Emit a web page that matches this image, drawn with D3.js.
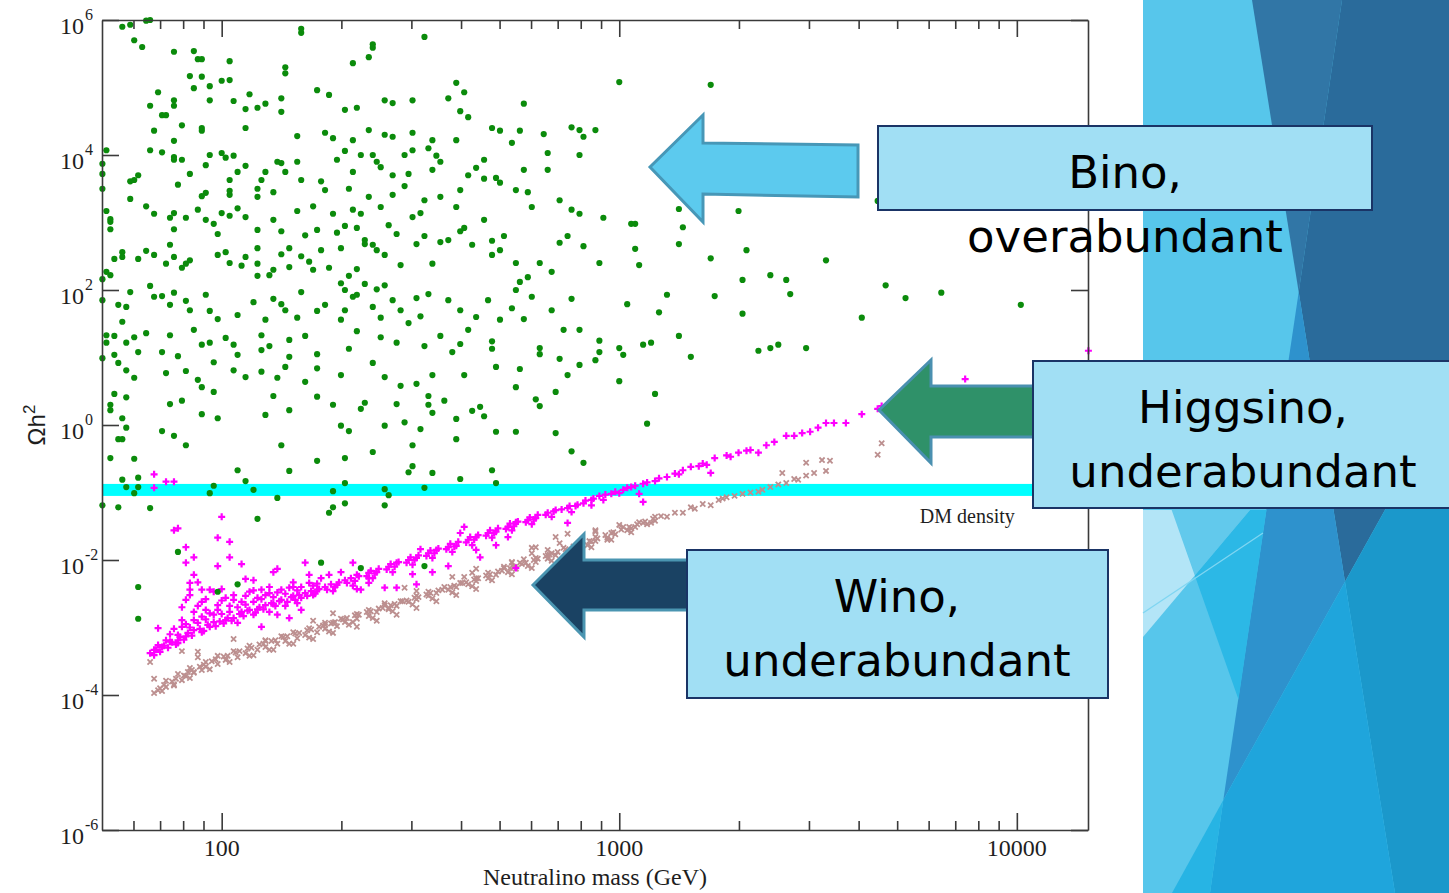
<!DOCTYPE html>
<html>
<head>
<meta charset="utf-8">
<title>Neutralino relic density</title>
<script src="https://cdn.jsdelivr.net/npm/d3@7"></script>
<style>
  html, body { margin: 0; padding: 0; background: #ffffff; overflow: hidden; }
  svg { display: block; }
</style>
</head>
<body>
<svg id="slide" width="1449" height="893"></svg>
<script>
// ---------------- data ----------------
const massDomain = [50, 15100];          // neutralino mass, GeV
const omegaDomain = [1e-6, 1e6];         // relic density Ωh²
const massMajorTicks = [100, 1000, 10000];
const massMinorTicks = [60, 70, 80, 90, 200, 300, 400, 500, 600, 700, 800, 900,
                        2000, 3000, 4000, 5000, 6000, 7000, 8000, 9000];
const massTickLabels = ["100", "1000", "10000"];
const omegaTickExponents = [-6, -4, -2, 0, 2, 4, 6];
const dmDensityBand = [0.089, 0.134];    // observed dark-matter density
const dmDensityLabel = "DM density";
const xAxisTitle = "Neutralino mass (GeV)";

// each point: [log10(mass / GeV), log10(Ωh²)]
const binoPoints = [
[1.75,5.90],[1.77,5.93],[1.78,5.70],[1.80,5.60],[1.81,5.99],[1.82,6.00],[1.88,5.53],[1.93,5.54],[1.94,5.42],[1.95,5.42],
[2.02,5.39],[1.92,5.17],[1.95,5.16],[1.97,5.02],[1.93,4.99],[2.00,5.10],[2.02,5.11],[2.07,4.90],[1.84,4.93],[1.88,4.81],
[1.88,4.73],[1.82,4.73],[1.85,4.59],[1.86,4.59],[1.83,4.36],[1.90,4.44],[1.95,4.40],[1.95,4.36],[1.97,4.81],[2.03,4.80],
[2.06,4.68],[2.06,4.40],[2.09,4.70],[2.11,4.76],[2.15,4.64],[2.15,4.84],[2.16,5.21],[2.16,5.30],[2.19,4.28],[1.88,4.21],
[1.85,4.04],[1.82,4.07],[1.88,3.97],[1.90,3.93],[1.88,3.93],[1.96,3.85],[1.97,4.00],[2.00,4.03],[2.01,3.96],[2.03,3.99],
[2.06,3.84],[2.15,3.88],[2.16,3.75],[2.14,3.90],[2.02,3.63],[2.11,3.75],[1.79,3.70],[1.77,3.61],[1.78,3.63],[1.70,3.87],
[1.70,3.72],[1.70,3.50],[1.71,4.07],[1.92,3.72],[2.04,3.75],[2.02,3.47],[2.09,3.50],[2.10,3.63],[1.95,3.39],[1.89,3.56],
[1.96,3.44],[2.02,3.41],[2.09,3.38],[1.71,3.17],[1.72,3.01],[1.77,3.35],[1.81,3.24],[1.88,3.14],[1.87,3.07],[1.83,3.13],
[1.91,3.07],[1.94,3.19],[1.96,3.04],[1.98,2.98],[2.00,3.14],[2.02,3.10],[2.04,3.21],[2.06,3.08],[2.09,2.89],[2.13,3.45],
[2.13,3.04],[2.15,2.87],[2.19,3.17],[1.72,3.05],[1.88,2.90],[1.99,2.83],[1.75,2.56],[1.75,2.49],[1.73,2.46],[1.72,2.90],
[1.79,2.46],[1.81,2.58],[1.83,2.52],[1.87,2.67],[1.88,2.49],[1.86,2.39],[1.91,2.39],[1.92,2.44],[1.90,2.33],[1.99,2.52],
[2.01,2.56],[2.02,2.40],[2.05,2.36],[2.06,2.49],[2.09,2.62],[2.09,2.39],[2.09,2.21],[2.12,2.22],[2.13,2.30],[2.15,2.53],
[2.17,2.62],[1.70,2.16],[1.72,2.22],[1.71,2.27],[1.82,2.06],
[2.20,5.81],[2.20,5.87],[2.38,5.59],[2.38,5.64],[2.51,5.75],[2.37,5.45],[2.33,5.36],[2.27,4.89],[2.24,4.96],[2.31,4.67],
[2.34,4.70],[2.43,4.77],[2.41,4.81],[2.48,4.81],[2.57,4.84],[2.59,5.07],[2.61,4.93],[2.62,4.56],[2.60,4.65],[2.76,4.76],
[3.00,5.08],[3.23,5.04],[2.26,4.33],[2.28,4.25],[2.33,4.22],[2.37,4.37],[2.41,4.30],[2.43,4.27],[2.48,4.33],[2.53,4.22],
[2.52,4.10],[2.54,3.99],[2.59,4.22],[2.68,4.40],[2.70,4.36],[2.75,4.36],[2.81,4.31],[2.88,4.41],[2.90,4.37],[2.94,4.37],
[2.91,4.27],[2.73,4.18],[2.82,4.03],[2.90,4.00],[2.31,4.06],[2.35,4.00],[2.46,4.00],[2.48,4.07],[2.19,3.90],[2.20,3.63],
[2.25,3.61],[2.26,3.48],[2.29,3.93],[2.33,3.75],[2.38,4.00],[2.39,3.90],[2.40,3.82],[2.46,3.54],[2.47,3.72],[2.53,3.78],
[2.55,3.90],[2.55,3.38],[2.59,3.23],[2.60,3.48],[2.62,3.70],[2.64,3.81],[2.66,3.93],[2.66,3.65],[2.69,3.66],[2.70,3.59],
[2.74,3.48],[2.76,3.78],[2.77,3.45],[2.78,3.23],[2.82,3.78],[2.85,3.33],[2.88,3.19],[2.90,3.13],[2.96,3.07],[3.03,2.98],
[3.04,2.98],[3.30,3.17],[3.15,3.20],[2.32,3.50],[2.33,3.19],[2.23,3.24],[2.28,3.13],[2.35,3.13],[2.37,3.38],[2.40,3.23],
[2.43,3.41],[2.50,3.14],[2.48,3.08],[2.51,3.33],[2.43,3.70],[2.21,2.81],[2.24,2.89],[2.25,2.59],[2.27,2.33],[2.30,2.62],
[2.29,2.85],[2.31,2.95],[2.34,2.92],[2.36,2.74],[2.36,2.68],[2.38,2.67],[2.39,2.59],[2.41,2.52],[2.42,2.96],[2.44,2.83],
[2.45,2.37],[2.49,2.68],[2.51,2.80],[2.53,2.39],[2.55,2.71],[2.57,2.74],[2.60,2.87],[2.61,2.92],[2.63,2.67],[2.66,3.04],
[2.68,2.73],[2.68,2.52],[2.71,2.80],[2.70,2.59],[2.74,2.40],[2.75,2.12],[2.77,2.19],[2.80,2.40],[2.83,2.27],[2.85,2.70],
[2.87,2.80],[2.91,2.65],[2.95,2.40],[3.04,2.61],[3.05,2.37],[3.16,2.93],[3.15,2.68],[3.23,2.47],[3.32,2.59],[3.42,2.15],
[3.43,1.94],[3.52,2.44],[3.38,2.22],[3.31,2.15],[2.20,2.50],[2.23,2.30],[2.30,2.10],[2.31,2.00],[2.36,2.09],[2.39,2.01],
[2.41,2.07],[2.34,2.31],[2.32,2.21],[2.22,2.42],[2.17,2.34],
[1.74,1.78],[1.76,1.75],[1.70,1.85],[1.77,1.97],[1.83,1.90],[1.85,1.91],[1.88,1.96],[1.87,1.78],[1.91,1.84],[1.92,1.70],
[1.96,1.93],[1.97,1.69],[1.99,1.57],[2.04,1.63],[2.08,1.82],[2.11,1.56],[2.13,1.87],[2.15,1.79],[2.16,1.70],[2.19,1.59],
[2.20,1.97],[2.24,1.69],[2.26,1.78],[2.30,1.56],[2.31,1.70],[2.33,1.90],[2.34,1.93],[2.38,1.75],[2.40,1.59],[2.43,1.85],
[2.45,1.70],[2.47,1.51],[2.49,1.88],[2.50,1.61],[2.52,1.94],[2.57,1.85],[2.60,1.70],[2.64,1.60],[2.67,1.85],[2.70,1.56],
[2.73,1.73],[2.74,2.00],[2.76,1.57],[2.78,1.90],[2.83,1.70],[2.88,1.87],[2.90,1.41],[3.02,1.79],[3.10,1.67],[3.12,1.93],
[3.15,1.32],[3.24,1.91],[3.31,1.65],[3.35,1.10],[3.38,1.14],[3.40,1.19],[3.47,1.14],[3.61,1.59],[3.67,2.07],[3.72,1.88],
[3.81,1.96],[4.01,1.78],[3.65,3.32],[1.73,1.32],[1.71,1.33],[1.71,1.22],[1.75,1.53],[1.76,1.22],[1.78,1.30],[1.81,1.36],
[1.87,1.33],[1.93,1.41],[1.97,1.22],[2.01,1.29],[2.03,1.19],[2.10,1.33],[2.12,1.17],[2.17,1.01],[2.21,1.32],[2.24,1.05],
[2.32,1.13],[2.34,1.39],[2.40,1.30],[2.44,1.22],[2.51,1.17],[2.55,1.32],[2.60,1.20],[2.62,1.41],[2.68,1.13],[2.80,1.05],
[2.86,1.41],[2.95,1.08],[3.00,1.14],[3.06,1.19],[1.73,1.04],[1.79,1.08],[1.85,1.08],[1.89,1.02],[1.95,1.19],[2.04,1.04],
[2.10,1.11],[2.17,1.26],
[1.70,0.99],[1.74,0.92],[1.76,0.81],[1.78,0.70],[1.86,0.77],[1.91,0.80],[1.94,0.67],[1.98,0.93],[2.03,0.81],[2.06,0.71],
[2.10,0.79],[2.14,0.70],[2.16,0.86],[2.21,0.64],[2.24,0.84],[2.30,0.74],[2.38,0.92],[2.41,0.71],[2.45,0.58],[2.53,0.74],
[2.58,1.08],[2.61,0.74],[2.68,1.24],[2.69,0.86],[2.75,0.83],[2.80,1.14],[2.85,0.98],[2.87,0.74],[2.90,0.89],[2.94,0.96],
[2.95,1.25],[3.01,1.04],[3.00,0.65],[3.08,1.22],[3.09,0.46],[3.07,0.02],[3.18,1.01],[2.84,0.49],[2.79,0.38],[2.80,0.28],
[2.63,0.21],[2.65,0.27],[2.66,0.13],[2.59,0.09],[2.59,-0.21],[2.69,-0.10],[2.74,-0.10],[2.84,-0.12],[2.88,-0.39],[2.91,-0.56],
[2.68,-0.67],[2.69,-0.86],[2.60,-0.80],[1.73,0.46],[1.76,0.41],[1.72,0.30],[1.72,0.22],[1.75,0.10],[1.76,-0.04],[1.74,-0.21],
[1.75,-0.21],[1.72,-0.49],[1.78,-0.50],[1.75,-0.81],[1.79,-0.78],[1.76,-0.92],[1.78,-1.01],[1.79,-0.92],[1.70,-1.19],[1.74,-1.22],
[1.82,-1.23],[1.89,-1.88],[1.79,-2.40],[1.79,-2.87],[1.98,-0.90],[1.97,-1.01],[2.04,-0.67],[2.06,-0.83],[2.08,-0.96],[2.14,-1.08],
[2.09,-1.39],[2.17,-0.68],[2.15,-0.30],[1.91,-0.30],[1.88,-0.16],[1.85,-0.09],[1.87,0.31],[1.90,0.36],[1.95,0.16],[1.99,0.10],
[1.98,0.49],[1.95,0.56],[2.13,0.43],[2.11,0.15],[2.17,0.22],[2.24,0.42],[2.28,0.30],[2.30,-0.01],[2.32,-0.09],[2.35,0.24],
[2.36,0.33],[2.44,0.31],[2.46,0.04],[2.41,-0.01],[2.50,-0.06],[2.48,-0.30],[2.48,-0.61],[2.47,-0.70],[2.53,-0.71],[2.51,-0.93],
[2.41,-0.95],[2.42,-1.04],[2.41,-1.19],[2.31,-0.86],[2.31,-1.16],[2.28,-1.22],[2.27,-1.30],[2.28,-0.98],[2.24,-0.53],[2.31,-0.49],
[2.38,-0.40],[2.56,0.36],[2.52,0.43],[2.52,0.30],[2.53,0.18],[2.74,0.56],[2.49,0.61],[2.25,-2.04],[2.35,-2.12],[2.51,-2.09],
[2.04,-2.36],[1.99,-2.47]
];

const higgsinoPoints = [
[1.83,-0.73],[1.83,-0.93],[1.86,-0.84],[1.88,-0.84],[2.00,-1.36],[1.88,-1.56],[1.89,-1.53],[1.99,-1.67],[2.02,-1.73],[1.91,-1.81],
[1.93,-1.96],[1.91,-2.04],[1.99,-2.09],[2.05,-2.06],[2.02,-1.96],[1.93,-2.22],[1.92,-2.34],[1.92,-2.44],[1.94,-2.33],[1.95,-2.44],
[1.97,-2.44],[1.98,-2.47],[2.00,-2.43],[2.06,-2.28],[2.08,-2.30],[2.13,-2.18],[2.14,-2.13],[2.21,-2.04],[2.17,-2.41],[2.20,-2.40],
[2.22,-2.34],[2.34,-2.43],[2.35,-2.44],[2.41,-2.41],[2.44,-2.41],[2.48,-2.21],[2.49,-2.36],[2.53,-2.18],[2.57,-2.09],[2.64,-1.85],
[2.69,-1.78],[2.72,-1.66],[2.61,-1.51],[2.60,-1.60],[2.50,-1.84],[2.33,-2.04],[2.37,-2.27],[2.37,-2.34],
[2.10,-2.99],[2.14,-2.81],[2.17,-2.86],[2.20,-2.74],[1.84,-3.01],[1.90,-2.89],[1.93,-2.89],[1.90,-2.99],[1.95,-2.84],[1.95,-2.62],
[1.90,-2.70],[1.89,-3.23],[1.89,-3.11],[1.86,-3.19],[1.84,-3.26],[1.83,-3.33],[1.85,-3.29],
[1.82,-3.38],[1.89,-3.19],[1.93,-3.04],[1.97,-2.99],[2.03,-2.86],[2.07,-2.74],[2.11,-2.67],[2.15,-2.59],[2.21,-2.49],[2.26,-2.40],
[2.31,-2.30],[2.37,-2.19],[2.42,-2.10],[2.47,-2.00],[2.52,-1.90],[2.57,-1.81],[2.62,-1.70],[2.67,-1.60],[2.72,-1.51],[2.77,-1.41],
[2.82,-1.30],[2.87,-1.23],[2.91,-1.16],[2.95,-1.05],[2.98,-1.02],[3.01,-0.96],[3.03,-0.92],[3.06,-0.87],[3.09,-0.83],[3.12,-0.77],
[3.15,-0.73],[3.18,-0.62],[3.20,-0.61],[3.22,-0.59],[3.24,-0.49],[3.23,-0.71],[3.30,-0.41],[3.33,-0.37],[3.35,-0.41],[3.37,-0.30],
[3.42,-0.16],[3.44,-0.16],[3.50,-0.04],[3.52,0.03],[3.54,0.03],[3.57,0.03],[3.61,0.16],[3.65,0.24],[3.66,0.28],[3.87,0.68],
[4.18,1.10],[3.06,-1.14],[3.05,-1.02],[2.87,-1.45],[2.65,-1.96],[2.74,-2.12],
[1.83,-3.41],[1.87,-3.21],[1.91,-3.13],[1.95,-3.07],[1.98,-2.92],[2.01,-2.89],[2.05,-2.77],[2.09,-2.73],[2.13,-2.65],[2.18,-2.53],
[2.20,-2.56],[2.24,-2.44],[2.29,-2.37],[2.34,-2.22],[2.39,-2.18],[2.44,-2.04],[2.49,-1.97],[2.54,-1.85],[2.59,-1.79],[2.64,-1.66],
[2.69,-1.58],[2.74,-1.44],[2.79,-1.38],[2.84,-1.26],[2.89,-1.20],[2.93,-1.11],[2.04,-2.93],[2.08,-2.81],[2.12,-2.77],[2.16,-2.68],
[2.19,-2.64],[2.23,-2.52],[2.28,-2.46],[2.33,-2.38],[2.38,-2.27],[2.43,-2.18],[2.48,-2.07],[2.53,-1.97],[2.58,-1.88],[2.63,-1.78],
[2.68,-1.67],[2.73,-1.56],[2.78,-1.47],[2.83,-1.36],[2.88,-1.29],[2.93,-1.19],[2.96,-1.11],[3.00,-1.01],
[1.96,-2.74],[1.99,-2.67],[2.03,-2.59],[2.06,-2.53],[2.09,-2.56],[2.12,-2.49],[2.02,-2.77],[1.98,-2.81],[1.93,-2.77],[1.91,-2.59],
[2.10,-2.44],[2.15,-2.44],[2.18,-2.33],[2.25,-2.27],[2.27,-2.22],[2.30,-2.18],[2.22,-2.22],[2.01,-2.56],[2.07,-2.47],
[1.835,-3.33],[1.845,-3.36],[1.855,-3.27],[1.865,-3.30],[1.875,-3.22],[1.885,-3.25],[1.895,-3.14],[1.905,-3.18],[1.915,-3.08],[1.925,-3.12],
[1.945,-3.02],[1.955,-3.05],[1.965,-2.96],[1.985,-2.98],[1.995,-2.91],[2.005,-2.94],[2.015,-2.86],[2.025,-2.90],[2.045,-2.80],[2.055,-2.83],
[2.065,-2.75],[2.085,-2.78],[2.095,-2.70],[2.105,-2.73],[2.125,-2.64],[2.135,-2.68],[2.145,-2.61],[2.165,-2.62],[2.175,-2.55],[2.185,-2.59],
[2.195,-2.52],[2.215,-2.53],[2.225,-2.46],[2.235,-2.50],[2.245,-2.43],[2.265,-2.44],[2.275,-2.36],[2.285,-2.40],[2.295,-2.33],[2.315,-2.34],
[2.325,-2.27],[2.335,-2.31],[2.345,-2.24],[2.365,-2.24],[2.375,-2.16],[2.385,-2.20],[2.395,-2.13],[2.415,-2.14],[2.425,-2.06],[2.435,-2.10],
[2.445,-2.03],[2.465,-2.04],[2.475,-1.96],[2.485,-2.00],[2.495,-1.93],[2.515,-1.94],[2.525,-1.86],[2.535,-1.90],[2.545,-1.83],[2.565,-1.84],
[2.575,-1.76],[2.585,-1.80],[2.595,-1.73],[2.615,-1.74],[2.625,-1.66],[2.635,-1.70],[2.645,-1.63],[2.665,-1.64],[2.675,-1.56],[2.685,-1.60],
[2.695,-1.53],[2.715,-1.54],[2.725,-1.46],[2.735,-1.50],[2.745,-1.43],[2.765,-1.44],[2.775,-1.37],[2.785,-1.40],[2.795,-1.33],[2.815,-1.33],
[2.835,-1.28],[2.855,-1.25],[2.875,-1.20],[2.895,-1.18],[2.915,-1.12],[2.935,-1.09],[2.965,-1.03],[2.99,-0.99],[3.02,-0.93],[3.04,-0.90],
[3.07,-0.85],[3.10,-0.79],[3.14,-0.72],[3.16,-0.67],[3.21,-0.57],[3.27,-0.45],[3.28,-0.47],[3.32,-0.38],[3.39,-0.25],[3.46,-0.12],
[3.48,-0.10],
[1.87,-3.10],[1.88,-3.02],[1.91,-2.95],[1.92,-3.00],[1.94,-2.93],[1.96,-2.88],[1.97,-2.79],[1.99,-2.74],[2.00,-2.80],[2.02,-2.68],
[2.04,-2.70],[2.05,-2.62],[2.06,-2.66],[2.08,-2.62],[2.10,-2.58],[2.11,-2.52],[2.13,-2.55],[2.14,-2.48],[2.16,-2.50],[2.19,-2.45],
[2.23,-2.38],[2.24,-2.35],[1.94,-2.68],[1.96,-2.58],[2.00,-2.60],[2.03,-2.52],[2.08,-2.45],[1.92,-2.52],[2.12,-2.40],[2.18,-2.40]
];

const winoPoints = [
[1.83,-3.97],[1.84,-3.93],[1.86,-3.88],[1.88,-3.84],[1.90,-3.78],[1.91,-3.72],[1.93,-3.67],[1.95,-3.63],[1.96,-3.58],[1.99,-3.54],
[2.01,-3.48],[2.04,-3.44],[2.06,-3.38],[2.09,-3.33],[2.11,-3.29],[2.14,-3.24],[2.16,-3.20],[2.19,-3.16],[2.21,-3.11],[2.24,-3.07],
[2.26,-3.02],[2.29,-2.98],[2.31,-2.92],[2.34,-2.87],[2.37,-2.83],[2.39,-2.77],[2.42,-2.73],[2.44,-2.68],[2.47,-2.62],[2.49,-2.58],
[2.52,-2.53],[2.54,-2.49],[2.57,-2.44],[2.59,-2.40],[2.62,-2.36],[2.64,-2.31],[2.67,-2.27],[2.69,-2.22],[2.72,-2.18],[2.74,-2.13],
[2.77,-2.09],[2.79,-2.03],[2.82,-1.98],[2.84,-1.93],[2.87,-1.88],[2.89,-1.84],[2.92,-1.78],[2.94,-1.72],[2.97,-1.67],[2.99,-1.62],
[3.02,-1.56],[3.04,-1.51],[3.07,-1.47],[3.09,-1.42],[3.12,-1.36],[3.16,-1.30],[3.19,-1.24],[3.23,-1.19],[3.25,-1.11],[3.27,-1.07],
[3.29,-1.05],[3.35,-0.99],[3.36,-0.96],[3.38,-0.92],[3.42,-0.86],[3.45,-0.81],[3.49,-0.71],[3.52,-0.68],[3.53,-0.53],[3.51,-0.52],
[3.47,-0.56],[3.41,-0.71],[3.65,-0.44],[3.66,-0.27],
[1.86,-3.79],[1.89,-3.69],[1.92,-3.60],[1.96,-3.51],[1.99,-3.42],[2.03,-3.35],[2.07,-3.27],[2.11,-3.20],[2.15,-3.13],[2.18,-3.07],
[2.22,-3.01],[2.26,-2.93],[2.30,-2.87],[2.34,-2.80],[2.37,-2.74],[2.41,-2.67],[2.45,-2.61],[2.49,-2.53],[2.52,-2.47],[2.56,-2.40],
[2.60,-2.34],[2.64,-2.27],[2.67,-2.19],[2.71,-2.12],[2.75,-2.04],[2.79,-1.97],[2.83,-1.90],[2.86,-1.82],[2.90,-1.75],[2.94,-1.66],
[2.98,-1.60],[3.01,-1.51],[3.05,-1.44],[3.09,-1.36],
[2.08,-3.41],[2.13,-3.33],[2.18,-3.24],[2.23,-3.17],[2.28,-3.08],[2.34,-2.99],[2.39,-2.90],[2.44,-2.81],[2.49,-2.71],[2.54,-2.61],
[2.59,-2.52],[2.64,-2.43],
[1.82,-3.51],[1.90,-3.35],[1.94,-3.36],[1.94,-3.44],[1.93,-3.66],[2.03,-3.17],[2.11,-3.19],[2.23,-2.90],[2.26,-2.96],[2.28,-2.79],
[2.28,-2.93],[2.33,-2.92],[2.41,-2.64],[2.42,-2.71],[2.46,-2.41],[2.49,-2.46],[2.58,-2.25],[2.61,-2.25],[2.63,-2.19],[2.64,-2.13],
[2.78,-1.90],[2.79,-1.81],[2.82,-1.85],[2.73,-2.04],[2.71,-2.10],[2.94,-1.56],[2.97,-1.70],[3.00,-1.48],[3.03,-1.53],[3.06,-1.45],
[3.08,-1.45],[2.87,-1.61],[2.84,-1.66],[2.85,-1.75],[2.78,-1.82],[2.82,-1.93],[2.76,-1.99],[2.73,-2.03],[2.93,-1.73],[2.94,-1.58],
[1.83,-3.76],
[1.845,-3.90],[1.855,-3.85],[1.875,-3.80],[1.885,-3.76],[1.905,-3.71],[1.915,-3.66],[1.925,-3.63],[1.945,-3.58],[1.955,-3.55],[1.975,-3.50],
[1.985,-3.47],[2.005,-3.43],[2.015,-3.42],[2.035,-3.37],[2.045,-3.35],[2.065,-3.31],[2.075,-3.30],[2.095,-3.25],[2.105,-3.24],[2.125,-3.20],
[2.135,-3.19],[2.155,-3.14],[2.165,-3.13],[2.185,-3.09],[2.195,-3.08],[2.215,-3.04],[2.225,-3.03],[2.245,-2.99],[2.255,-2.97],[2.275,-2.94],
[2.285,-2.92],[2.305,-2.88],[2.315,-2.86],[2.335,-2.82],[2.345,-2.81],[2.365,-2.77],[2.375,-2.76],[2.395,-2.72],[2.405,-2.71],[2.425,-2.67],
[2.435,-2.65],[2.455,-2.61],[2.465,-2.60],[2.485,-2.56],[2.495,-2.55],[2.515,-2.51],[2.525,-2.49],[2.545,-2.45],[2.555,-2.44],[2.575,-2.40],
[2.585,-2.38],[2.605,-2.34],[2.615,-2.33],[2.635,-2.29],[2.645,-2.27],[2.665,-2.23],[2.675,-2.21],[2.695,-2.17],[2.705,-2.16],[2.725,-2.12],
[2.735,-2.10],[2.755,-2.06],[2.765,-2.04],[2.785,-2.00],[2.795,-1.98],[2.815,-1.94],[2.825,-1.92],[2.845,-1.88],[2.865,-1.84],[2.885,-1.80],
[2.905,-1.76],[2.925,-1.72],[2.945,-1.68],[2.965,-1.63],[2.985,-1.59],[3.005,-1.55],[3.025,-1.51],[3.045,-1.47],[3.065,-1.43],[3.085,-1.39],
[3.105,-1.35],[3.14,-1.30],[3.18,-1.22],[3.21,-1.17],[3.26,-1.09],[3.31,-1.02],[3.33,-1.00],[3.40,-0.88],[3.44,-0.80],[3.47,-0.75],
[1.85,-3.94],[1.88,-3.86],[1.92,-3.75],[1.97,-3.62],[2.02,-3.51],[2.07,-3.42],[2.12,-3.33],[2.17,-3.24],[2.22,-3.15],[2.27,-3.06],
[2.32,-2.96],[2.38,-2.86],[2.43,-2.76],[2.48,-2.66],[2.53,-2.57],[2.58,-2.48],[2.63,-2.39],[2.68,-2.30],[2.73,-2.21],[2.78,-2.12],
[2.83,-2.01],[2.88,-1.91],[2.93,-1.81],[2.98,-1.70],[3.03,-1.59]
];

const calloutLines = {
  bino: ["Bino,", "overabundant"],
  higgsino: ["Higgsino,", "underabundant"],
  wino: ["Wino,", "underabundant"]
};

// ---------------- layout ----------------
const svg = d3.select("#slide");
const plot = { left: 102, right: 1088, top: 20, bottom: 830 };

const x = d3.scaleLog().domain(massDomain).range([plot.left, plot.right]);
const y = d3.scaleLog().domain(omegaDomain).range([plot.bottom, plot.top]);

const serif = "'Liberation Serif','Times New Roman',serif";
const sans = "'Liberation Sans',Arial,sans-serif";
const calloutFont = "'DejaVu Sans',Verdana,sans-serif";
const inkColor = "#1e1e1e";
const axisColor = "#3a3a3a";

// ---------------- faceted side panel ----------------
const facets = [
  { fill: "#57c6eb", pts: [[1143,0],[1449,0],[1449,893],[1143,893]] },
  { fill: "#3176a6", pts: [[1252,0],[1342,0],[1298.7,292]] },
  { fill: "#2a6b9b", pts: [[1342,0],[1449,0],[1449,395],[1345,581.7],[1298.7,292]] },
  { fill: "#2e92cd", pts: [[1298.7,292],[1345,581.7],[1223.3,800]] },
  { fill: "#1b98cb", pts: [[1345,581.7],[1449,395],[1449,893],[1395,893]] },
  { fill: "#1fa5dc", pts: [[1223.3,800],[1345,581.7],[1395,893],[1210,893]] },
  { fill: "#27b4e4", pts: [[1223.3,800],[1210,893],[1172,893]] },
  { fill: "#2cb8e6", pts: [[1250,510],[1266.5,510],[1238.5,699.5],[1194.8,575.6]] },
  { fill: "#62c9ec", pts: [[1171.7,510],[1250,510],[1194.8,575.6]] },
  { fill: "#b3e5f7", pts: [[1143,510],[1171.7,510],[1194.8,575.6],[1143,637]] }
];
const panel = svg.append("g").attr("class", "side-panel");
panel.selectAll("path").data(facets).join("path")
  .attr("d", f => "M" + f.pts.map(p => p.join(",")).join("L") + "Z")
  .attr("fill", f => f.fill);
panel.append("line")
  .attr("x1", 1143).attr("y1", 613).attr("x2", 1263).attr("y2", 533)
  .attr("stroke", "#7fd6f2").attr("stroke-width", 1.3);

// ---------------- plot ----------------
const chart = svg.append("g").attr("class", "chart");

// observed relic density band
chart.append("rect")
  .attr("x", plot.left)
  .attr("width", plot.right - plot.left)
  .attr("y", y(dmDensityBand[1]))
  .attr("height", y(dmDensityBand[0]) - y(dmDensityBand[1]))
  .attr("fill", "#00ffff");

chart.append("text")
  .attr("x", x(5700))
  .attr("y", y(dmDensityBand[0]) + 27)
  .attr("font-family", serif).attr("font-size", 20).attr("fill", inkColor)
  .text(dmDensityLabel);

const px = d => x(Math.pow(10, d[0]));
const py = d => y(Math.pow(10, d[1]));

// wino-like: rosy-brown crosses
chart.append("g").selectAll("path").data(winoPoints).join("path")
  .attr("transform", d => `translate(${px(d)},${py(d)})`)
  .attr("d", "M-2.6,-2.6L2.6,2.6M-2.6,2.6L2.6,-2.6")
  .attr("stroke", "#bc8f8f").attr("stroke-width", 1.8).attr("fill", "none");

// higgsino-like: magenta plus signs
chart.append("g").selectAll("path").data(higgsinoPoints).join("path")
  .attr("transform", d => `translate(${px(d)},${py(d)})`)
  .attr("d", "M-3.5,0H3.5M0,-3.5V3.5")
  .attr("stroke", "#ff00ff").attr("stroke-width", 2.2).attr("fill", "none");

// bino-like: green dots
chart.append("g").selectAll("circle").data(binoPoints).join("circle")
  .attr("cx", px).attr("cy", py).attr("r", 3.1)
  .attr("fill", "#0b8b0b");

// ---------------- axes ----------------
const axes = chart.append("g").attr("class", "axes");
const omegaTicks = omegaTickExponents.map(e => Math.pow(10, e));

axes.append("g").attr("transform", `translate(0,${plot.bottom})`)
  .call(d3.axisBottom(x).tickValues(massMajorTicks).tickSizeInner(-17).tickSizeOuter(0).tickFormat(""));
axes.append("g").attr("transform", `translate(0,${plot.bottom})`)
  .call(d3.axisBottom(x).tickValues(massMinorTicks).tickSizeInner(-9).tickSizeOuter(0).tickFormat(""))
  .call(g => g.select(".domain").remove());
axes.append("g").attr("transform", `translate(0,${plot.top})`)
  .call(d3.axisTop(x).tickValues(massMajorTicks).tickSizeInner(-17).tickSizeOuter(0).tickFormat(""));
axes.append("g").attr("transform", `translate(0,${plot.top})`)
  .call(d3.axisTop(x).tickValues(massMinorTicks).tickSizeInner(-9).tickSizeOuter(0).tickFormat(""))
  .call(g => g.select(".domain").remove());
axes.append("g").attr("transform", `translate(${plot.left},0)`)
  .call(d3.axisLeft(y).tickValues(omegaTicks).tickSizeInner(-17).tickSizeOuter(0).tickFormat(""));
axes.append("g").attr("transform", `translate(${plot.right},0)`)
  .call(d3.axisRight(y).tickValues(omegaTicks).tickSizeInner(-17).tickSizeOuter(0).tickFormat(""));

axes.selectAll(".domain, .tick line")
  .attr("stroke", axisColor).attr("stroke-width", 1.6);
axes.selectAll(".tick text").remove();

// mass tick labels
chart.append("g").selectAll("text").data(massMajorTicks).join("text")
  .attr("x", d => x(d)).attr("y", plot.bottom + 26)
  .attr("text-anchor", "middle")
  .attr("font-family", serif).attr("font-size", 24).attr("fill", inkColor)
  .text((d, i) => massTickLabels[i]);

// Ωh² tick labels as powers of ten
const yLabels = chart.append("g").attr("font-family", serif).attr("fill", inkColor);
omegaTickExponents.forEach(e => {
  const yy = y(Math.pow(10, e));
  yLabels.append("text").attr("x", 84).attr("y", yy + 14)
    .attr("text-anchor", "end").attr("font-size", 24).text("10");
  yLabels.append("text").attr("x", 85).attr("y", yy)
    .attr("font-size", 16).text(String(e));
});

// axis titles
chart.append("text")
  .attr("x", (plot.left + plot.right) / 2).attr("y", 885)
  .attr("text-anchor", "middle")
  .attr("font-family", serif).attr("font-size", 24).attr("fill", inkColor)
  .text(xAxisTitle);

const yTitle = chart.append("text")
  .attr("transform", `translate(45,${y(1)}) rotate(-90)`)
  .attr("text-anchor", "middle")
  .attr("font-family", sans).attr("font-size", 24).attr("fill", inkColor);
yTitle.append("tspan").text("Ωh");
yTitle.append("tspan").attr("dy", -10).attr("font-size", 17).text("2");

// ---------------- callout arrows ----------------
const arrows = [
  { fill: "#5ccaee", stroke: "#4797b7",
    pts: [[650,167],[703,115],[703,143],[858,145],[858,197],[703,194],[703,222]] },
  { fill: "#2f9169", stroke: "#4a90b0",
    pts: [[879,410],[931,360],[931,386],[1040,386],[1040,437],[931,437],[931,463]] },
  { fill: "#1a4263", stroke: "#4a95b1",
    pts: [[533,585],[584,534],[584,560],[692,560],[692,610],[584,610],[584,637]] }
];
svg.append("g").selectAll("path").data(arrows).join("path")
  .attr("d", a => "M" + a.pts.map(p => p.join(",")).join("L") + "Z")
  .attr("fill", a => a.fill).attr("stroke", a => a.stroke)
  .attr("stroke-width", 3).attr("stroke-linejoin", "miter");

// ---------------- callout boxes ----------------
const boxes = [
  { key: "bino", x: 878, y: 126, w: 494, h: 84, cx: 1125 },
  { key: "higgsino", x: 1033, y: 361, w: 420, h: 147, cx: 1243 },
  { key: "wino", x: 687, y: 550, w: 421, h: 148, cx: 897 }
];
const boxG = svg.append("g");
boxG.selectAll("rect").data(boxes).join("rect")
  .attr("x", b => b.x).attr("y", b => b.y).attr("width", b => b.w).attr("height", b => b.h)
  .attr("fill", "#a1dff4").attr("stroke", "#1a3466").attr("stroke-width", 2);
boxes.forEach(b => {
  calloutLines[b.key].forEach((line, i) => {
    boxG.append("text")
      .attr("x", b.cx).attr("y", b.y + 62 + i * 64)
      .attr("text-anchor", "middle")
      .attr("font-family", calloutFont).attr("font-size", 45).attr("fill", "#000")
      .text(line);
  });
});
</script>
</body>
</html>
